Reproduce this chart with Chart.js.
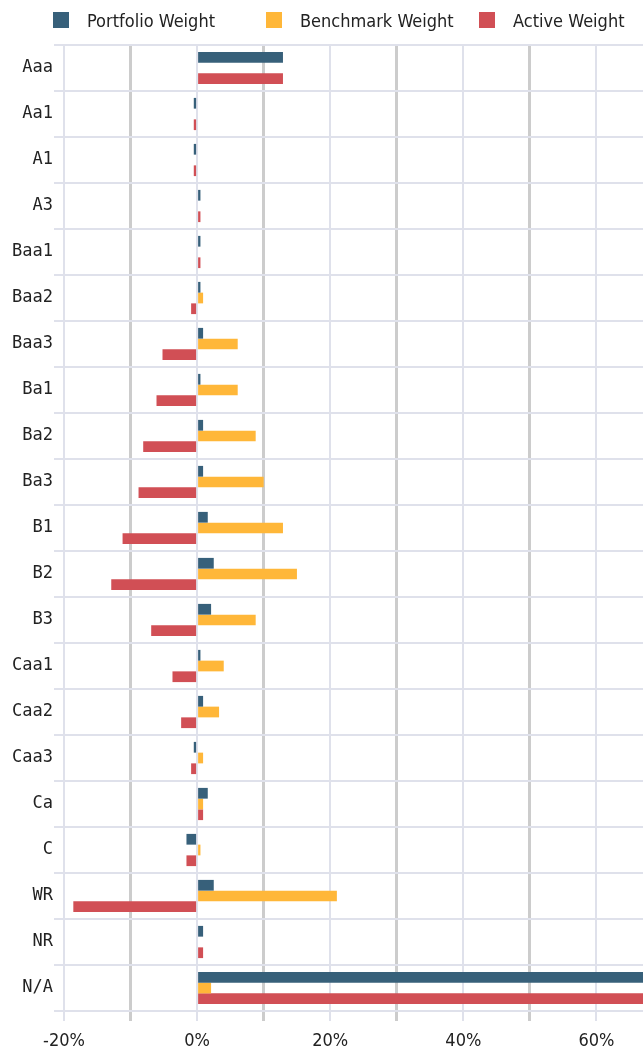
<!DOCTYPE html>
<html>
<head>
<meta charset="utf-8">
<script src="https://cdn.jsdelivr.net/npm/chart.js@4.4.0/dist/chart.umd.min.js"></script>
<style>
html, body { margin: 0; padding: 0; background: #fff; overflow: hidden; }
#wrap { position: relative; width: 673px; height: 1049px; }
#legend { position: absolute; left: 0; top: 0; width: 643px; height: 40px;
  font-family: "DejaVu Sans Condensed", "Liberation Sans Narrow", sans-serif; font-size: 18px; color: #222; }
.lg_item { position: absolute; top: 9px; height: 22px; display: flex; align-items: center; white-space: nowrap; }
.lg_box { width: 16px; height: 16px; margin-right: 18px; }
</style>
</head>
<body>
<div id="wrap">
  <canvas id="myChart"></canvas>
  <div id="legend"></div>
</div>
<script>
var ratings = ['Aaa','Aa1','A1','A3','Baa1','Baa2','Baa3','Ba1','Ba2','Ba3','B1','B2','B3','Caa1','Caa2','Caa3','Ca','C','WR','NR','N/A'];
var portfolio_weight = [12.9,-0.5,-0.5,0.5,0.5,0.5,0.9,0.5,0.9,0.9,1.6,2.5,2.1,0.5,0.9,-0.5,1.6,-1.6,2.5,0.9,69.5];
var benchmark_weight = [0,0,0,0,0,0.9,6.1,6.1,8.8,10.0,12.9,15.0,8.8,4.0,3.3,0.9,0.9,0.5,21.0,0,2.1];
var active_weight = [12.9,-0.5,-0.5,0.5,0.5,-0.9,-5.2,-6.1,-8.1,-8.8,-11.2,-12.9,-6.9,-3.7,-2.4,-0.9,0.9,-1.6,-18.6,0.9,67.4];
var x_min = -20, x_max = 70, x_step = 10;

var sans = '"DejaVu Sans Condensed", "Liberation Sans Narrow", sans-serif';
var mono = '"DejaVu Sans Mono", monospace';
var grid_light = '#dfe1eb';
var grid_dark = '#cccccc';

var ctx = document.getElementById('myChart').getContext('2d');
var myChart = new Chart(ctx, {
    type: 'bar',
    data: {
        labels: ratings,
        datasets: [
            { label: 'Portfolio Weight', data: portfolio_weight, backgroundColor: '#37607a' },
            { label: 'Benchmark Weight', data: benchmark_weight, backgroundColor: '#ffb739' },
            { label: 'Active Weight', data: active_weight, backgroundColor: '#d14f55' }
        ]
    },
    options: {
        indexAxis: 'y',
        responsive: true,
        maintainAspectRatio: false,
        animation: false,
        datasets: { bar: { barPercentage: 1, categoryPercentage: 0.7 } },
        layout: { padding: { top: 45, left: 0, right: 0, bottom: 0 } },
        plugins: { legend: { display: false }, tooltip: { enabled: false } },
        scales: {
            x: {
                type: 'linear',
                min: x_min,
                max: x_max,
                border: { display: false },
                grid: {
                    tickLength: 10,
                    color: function(c) { return c.tick && c.tick.value % 20 === 0 ? grid_light : grid_dark; },
                    lineWidth: function(c) { return c.tick && c.tick.value % 20 === 0 ? 2 : 3; }
                },
                ticks: {
                    stepSize: x_step,
                    autoSkip: false,
                    maxRotation: 0,
                    padding: 10,
                    color: '#222',
                    font: { family: sans, size: 18 },
                    callback: function(v) { return v % 20 === 0 ? v + '%' : ''; }
                },
                afterFit: function(s) { s.height = 38; }
            },
            y: {
                border: { display: false },
                grid: { color: grid_light, lineWidth: 2, tickLength: 10, offset: true },
                ticks: { autoSkip: false, padding: 1, color: '#222', font: { family: mono, size: 17 } },
                afterFit: function(s) { s.width = 64; }
            }
        }
    }
});

// html legend, three equal columns
var legend = document.getElementById('legend');
myChart.data.datasets.forEach(function(ds, i) {
    var item = document.createElement('div');
    item.className = 'lg_item';
    item.style.left = (53 + i * 213) + 'px';
    item.innerHTML = "<span class='lg_box' style='background:" + ds.backgroundColor + "'></span><span>" + ds.label + "</span>";
    legend.appendChild(item);
});
</script>
</body>
</html>
